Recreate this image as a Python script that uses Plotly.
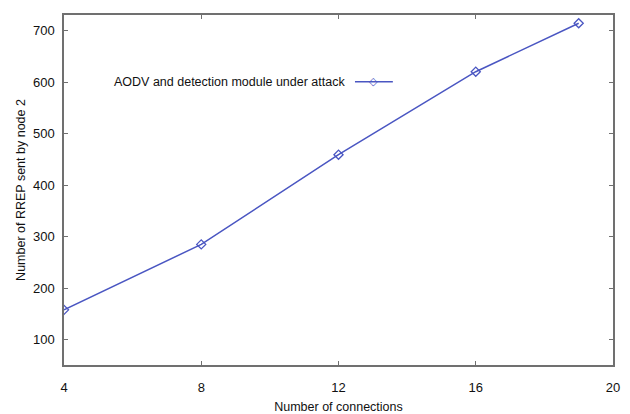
import plotly.graph_objects as go

connections = [4, 8, 12, 16, 19]
rrep_sent = [158, 285, 459, 620, 714]
series_name = "AODV and detection module under attack"
x_ticks = [4, 8, 12, 16, 20]
y_ticks = [100, 200, 300, 400, 500, 600, 700]

line_color = "#4a56c2"
axis_color = "#707070"
text_color = "#111111"
font_family = "Liberation Sans, Arial, sans-serif"

fig = go.Figure()
fig.add_trace(go.Scatter(
    x=connections, y=rrep_sent, mode="lines+markers", name=series_name,
    line=dict(color=line_color, width=1.5),
    marker=dict(symbol="diamond-open", size=7, color=line_color, line=dict(width=1.3)),
    showlegend=False,
))

axis_common = dict(
    showline=True, linecolor=axis_color, linewidth=1.5, mirror="ticks",
    ticks="inside", ticklen=4, tickwidth=1, tickcolor=axis_color,
    showgrid=False, zeroline=False, automargin=False,
    tickfont=dict(family=font_family, size=13, color=text_color),
)

fig.update_xaxes(range=[4, 20], tickvals=x_ticks, ticklabelstandoff=10,
                 title=dict(text="Number of connections", standoff=10,
                            font=dict(family=font_family, size=12.5, color=text_color)),
                 **axis_common)
fig.update_yaxes(range=[51, 730], tickvals=y_ticks, ticklabelstandoff=5,
                 title=dict(text="Number of RREP sent by node 2", standoff=5,
                            font=dict(family=font_family, size=12.5, color=text_color)),
                 **axis_common)

# legend-like entry (text left, sample on right, as in the reference)
leg_y = 0.809
fig.add_annotation(xref="paper", yref="paper", x=0.516, y=leg_y, xanchor="right",
                   yanchor="middle", showarrow=False, text=series_name,
                   font=dict(family=font_family, size=12.5, color=text_color))
fig.add_shape(type="line", xref="paper", yref="paper", x0=0.530, x1=0.599,
              y0=leg_y, y1=leg_y, line=dict(color=line_color, width=1.5))
fig.add_annotation(xref="paper", yref="paper", x=0.5645, y=leg_y, xanchor="center",
                   yanchor="middle", showarrow=False, text="◇",
                   font=dict(family="DejaVu Sans", size=11, color=line_color))

fig.update_layout(
    width=630, height=414,
    margin=dict(l=64, r=17, t=15, b=49),
    paper_bgcolor="white", plot_bgcolor="white",
    font=dict(family=font_family),
)

fig.write_html("out.html")
